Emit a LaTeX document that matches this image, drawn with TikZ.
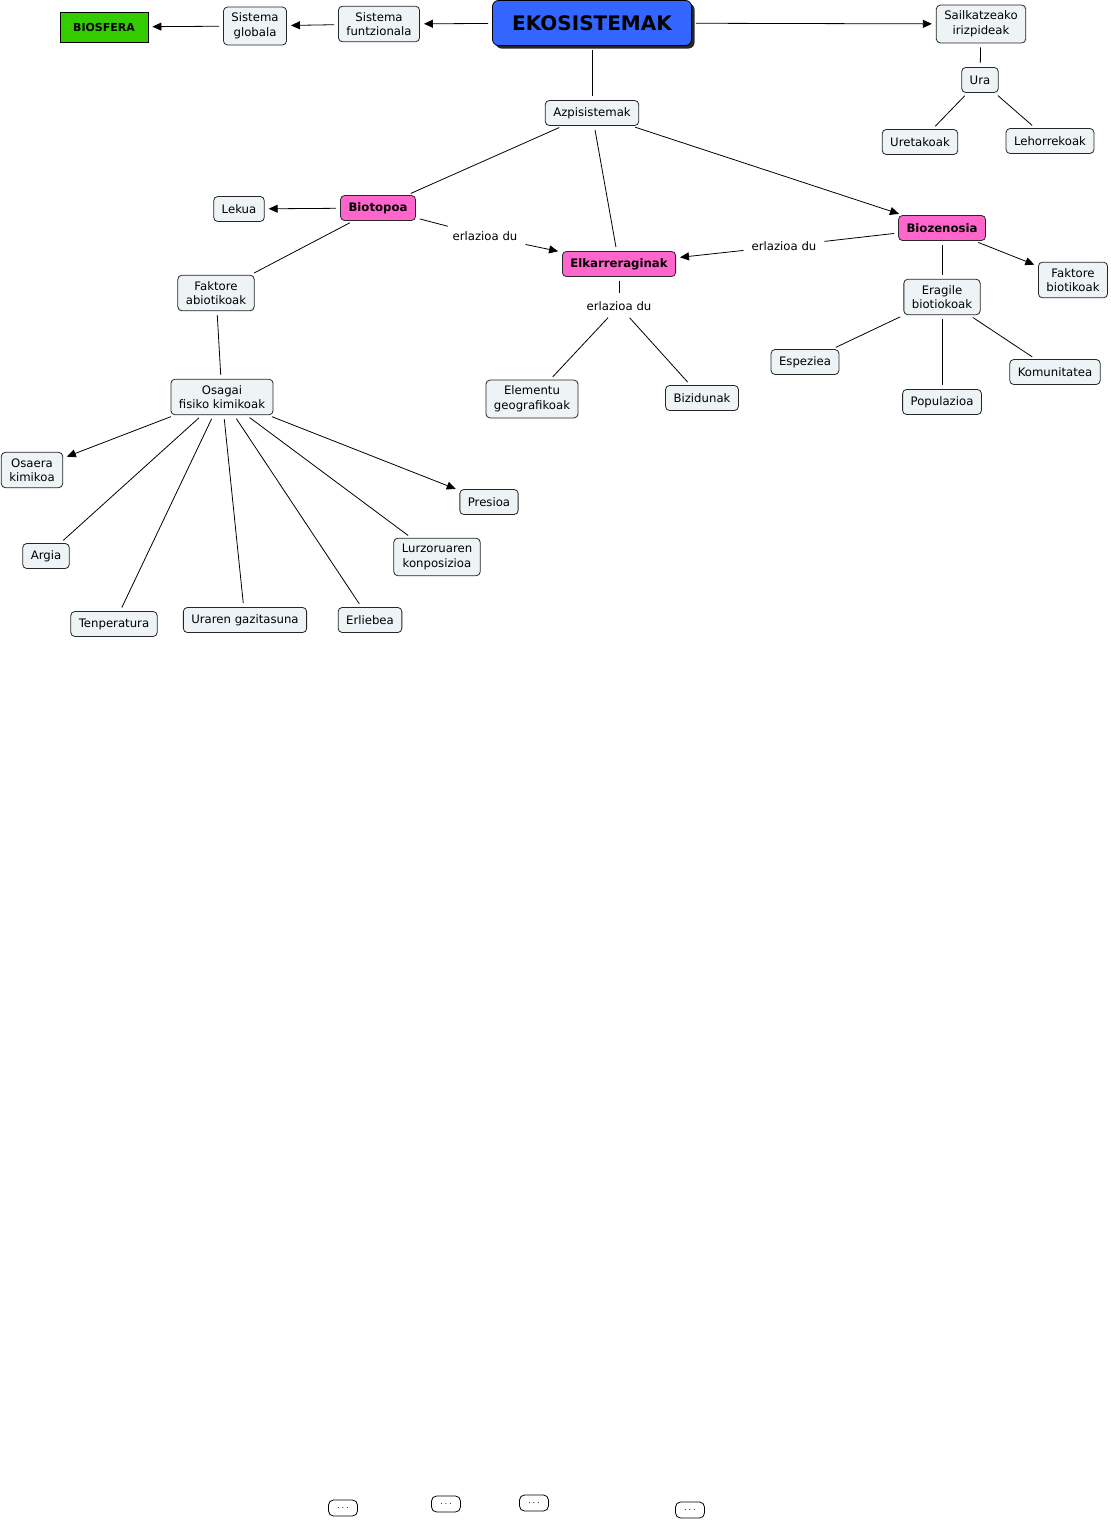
\documentclass[tikz,border=0pt]{standalone}
\usepackage{fontspec}
\setmainfont{DejaVu Sans}
\usetikzlibrary{arrows.meta,shadows}
\definecolor{boxfill}{HTML}{EEF3F5}
\definecolor{pinkfill}{HTML}{FF66CC}
\definecolor{greenfill}{HTML}{33CC00}
\definecolor{bluefill}{HTML}{3366FF}

\tikzset{
  concept/.style={draw=black!85,fill=boxfill,rounded corners=4pt,align=center,
    inner xsep=8pt,inner ysep=6pt,minimum height=25pt,line width=0.8pt,
    font=\fontsize{11.7}{14.5}\selectfont},
  keyconcept/.style={concept,fill=pinkfill,font=\fontsize{11.7}{14.5}\selectfont\bfseries},
  mainconcept/.style={draw=black,fill=bluefill,rounded corners=6pt,line width=0.8pt,
    minimum width=199pt,minimum height=45pt,font=\fontsize{20}{22}\selectfont\bfseries,
    drop shadow={shadow xshift=3pt,shadow yshift=-3pt,opacity=1,fill=black!85}},
  rootconcept/.style={draw=black,fill=greenfill,line width=0.8pt,minimum width=88pt,
    minimum height=30pt,font=\fontsize{11}{12}\selectfont\bfseries},
  dotsbox/.style={draw=black,fill=white,rounded corners=5pt,line width=0.8pt,
    minimum width=29pt,minimum height=16pt,inner sep=0pt},
  linkword/.style={inner sep=4pt,font=\fontsize{11.7}{14.5}\selectfont},
  link/.style={line width=0.8pt,shorten <=4pt,shorten >=4pt},
  arrowlink/.style={link,-{Triangle[length=9pt,width=8pt]}},
}

\begin{document}
\begin{tikzpicture}[x=1pt,y=-1pt]
  \useasboundingbox (0,0) rectangle (1111,1526);
  % top row
  \node[rootconcept] (bios) at (104,27) {BIOSFERA};
  \node[concept] (sglob) at (255,26) {Sistema\\globala};
  \node[concept] (sfun) at (379,24) {Sistema\\funtzionala};
  \node[mainconcept] (eko) at (592,23) {EKOSISTEMAK};
  \node[concept] (sail) at (981,24) {Sailkatzeako\\irizpideak};
  \node[concept] (ura) at (980,80) {Ura};
  \node[concept] (uret) at (920,142) {Uretakoak};
  \node[concept] (lehor) at (1050,141) {Lehorrekoak};
  \node[concept] (azpi) at (592,113) {Azpisistemak};
  % subsystems
  \node[keyconcept] (bioto) at (378,208) {Biotopoa};
  \node[concept] (lekua) at (239,209) {Lekua};
  \node[keyconcept] (elkar) at (619,264) {Elkarreraginak};
  \node[keyconcept] (bioz) at (942,228) {Biozenosia};
  \node[linkword] (erl1) at (485,236) {erlazioa du};
  \node[linkword] (erl2) at (784,246) {erlazioa du};
  \node[linkword] (erl3) at (619,306) {erlazioa du};
  \node[concept] (fabio) at (216,293) {Faktore\\abiotikoak};
  \node[concept] (fbio) at (1073,280) {Faktore\\biotikoak};
  \node[concept] (eragile) at (942,297) {Eragile\\biotiokoak};
  \node[concept] (espez) at (805,362) {Espeziea};
  \node[concept] (komun) at (1055,372) {Komunitatea};
  \node[concept] (popul) at (942,402) {Populazioa};
  \node[concept] (elemen) at (532,399) {Elementu\\geografikoak};
  \node[concept] (bizid) at (702,398) {Bizidunak};
  % physical-chemical components
  \node[concept] (osagai) at (222,397) {Osagai\\fisiko kimikoak};
  \node[concept] (osaera) at (32,470) {Osaera\\kimikoa};
  \node[concept] (presioa) at (489,502) {Presioa};
  \node[concept] (argia) at (46,556) {Argia};
  \node[concept] (lurzo) at (437,557) {Lurzoruaren\\konposizioa};
  \node[concept] (tenp) at (114,624) {Tenperatura};
  \node[concept] (urgaz) at (245,620) {Uraren gazitasuna};
  \node[concept] (erlie) at (370,620) {Erliebea};
  % loose boxes at the bottom
  \node[dotsbox] (d1) at (343,1508) {$\cdots$};
  \node[dotsbox] (d2) at (446,1504) {$\cdots$};
  \node[dotsbox] (d3) at (534,1503) {$\cdots$};
  \node[dotsbox] (d4) at (690,1510) {$\cdots$};

  \draw[arrowlink] (eko) -- (sfun);
  \draw[arrowlink] (sfun) -- (sglob);
  \draw[arrowlink] (sglob) -- (bios);
  \draw[arrowlink] (eko) -- (sail);
  \draw[link] (sail) -- (ura);
  \draw[link] (ura) -- (uret);
  \draw[link] (ura) -- (lehor);
  \draw[link] (eko) -- (azpi);
  \draw[link] (azpi) -- (bioto);
  \draw[link] (azpi) -- (elkar);
  \draw[arrowlink] (azpi) -- (bioz);
  \draw[arrowlink] (bioto) -- (lekua);
  \draw[link] (bioto) -- (erl1);
  \draw[arrowlink] (erl1) -- (elkar);
  \draw[link] (bioz) -- (erl2);
  \draw[arrowlink] (erl2) -- (elkar);
  \draw[link] (bioto) -- (fabio);
  \draw[arrowlink] (bioz) -- (fbio);
  \draw[link] (bioz) -- (eragile);
  \draw[link] (eragile) -- (espez);
  \draw[link] (eragile) -- (popul);
  \draw[link] (eragile) -- (komun);
  \draw[link] (elkar) -- (erl3);
  \draw[link] (erl3) -- (elemen);
  \draw[link] (erl3) -- (bizid);
  \draw[link] (fabio) -- (osagai);
  \draw[arrowlink] (osagai) -- (osaera);
  \draw[arrowlink] (osagai) -- (presioa);
  \draw[link] (osagai) -- (argia);
  \draw[link] (osagai) -- (tenp);
  \draw[link] (osagai) -- (urgaz);
  \draw[link] (osagai) -- (erlie);
  \draw[link] (osagai) -- (lurzo);
\end{tikzpicture}
\end{document}
